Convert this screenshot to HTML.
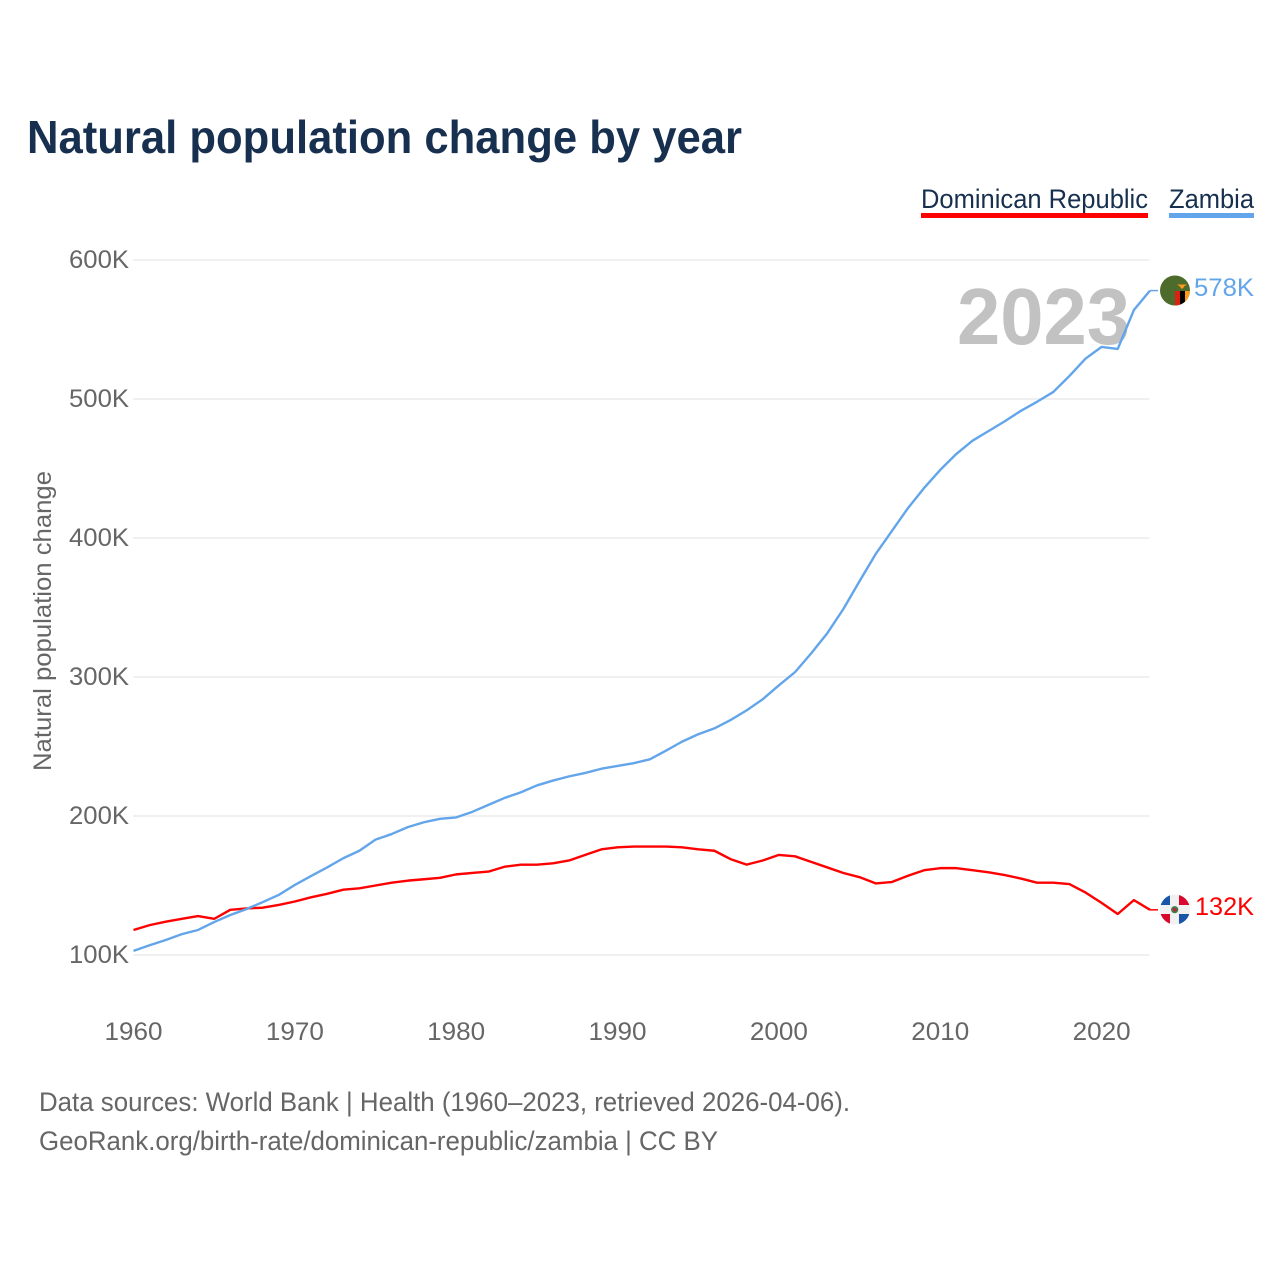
<!DOCTYPE html>
<html lang="en">
<head>
<meta charset="utf-8">
<title>Natural population change by year</title>
<style>
html,body{margin:0;padding:0;background:#fff;}
svg{display:block;font-family:"Liberation Sans",sans-serif;}
</style>
</head>
<body>
<svg id="chart" width="1280" height="1280" viewBox="0 0 1280 1280" xmlns="http://www.w3.org/2000/svg">
<rect width="1280" height="1280" fill="#fff"/>
<text x="27" y="153" font-size="46" font-weight="700" fill="#18304f" textLength="715" lengthAdjust="spacingAndGlyphs">Natural population change by year</text>
<g id="grid"></g>
<g id="yticks"></g>
<g id="xticks"></g>
<text transform="translate(51,771) rotate(-90)" font-size="25" fill="#666" textLength="300" lengthAdjust="spacingAndGlyphs">Natural population change</text>
<text x="957" y="344" font-size="80" font-weight="700" fill="#c2c2c2" textLength="173" lengthAdjust="spacingAndGlyphs">2023</text>
<g>
<g>
<text x="921" y="208" font-size="27" fill="#18304f" textLength="227" lengthAdjust="spacingAndGlyphs">Dominican Republic</text>
<rect x="921" y="213" width="227" height="5" fill="#ff0000"/>
</g>
<g>
<text x="1169" y="208" font-size="27" fill="#18304f" textLength="85" lengthAdjust="spacingAndGlyphs">Zambia</text>
<rect x="1169" y="213" width="85" height="5" fill="#63a5ea"/>
</g>
</g>
<path id="line-dr" fill="none" stroke="#ff0000" stroke-width="2.4" stroke-linejoin="round"/>
<path id="line-zm" fill="none" stroke="#63a5ea" stroke-width="2.4" stroke-linejoin="round"/>
<line id="conn-zm" x1="1150" x2="1158" stroke="#63a5ea" stroke-width="1.5"/>
<line id="conn-dr" x1="1150" x2="1158" stroke="#ff0000" stroke-width="1.5"/>
<defs>
<clipPath id="clip-zm"><circle cx="1175" cy="290.5" r="15"/></clipPath>
<clipPath id="clip-dr"><circle cx="1175" cy="909.5" r="15"/></clipPath>
</defs>
<g clip-path="url(#clip-zm)">
<rect x="1159" y="275" width="32" height="32" fill="#4d6b2b"/>
<rect x="1175" y="291" width="5" height="16" fill="#de2010"/>
<rect x="1180" y="291" width="5" height="16" fill="#000"/>
<rect x="1185" y="291" width="5" height="16" fill="#ff9a1e"/>
<path d="M1177 284.5 h10 l-3 2 l-1 2 h-2 l-1-2 z" fill="#ff9a1e"/>
</g>
<g clip-path="url(#clip-dr)">
<rect x="1159" y="894" width="32" height="32" fill="#f1f1f1"/>
<rect x="1159" y="894" width="11" height="11" fill="#1a56a8"/>
<rect x="1179" y="894" width="12" height="11" fill="#d8082e"/>
<rect x="1159" y="914" width="11" height="12" fill="#d8082e"/>
<rect x="1179" y="914" width="12" height="12" fill="#1a56a8"/>
<circle cx="1174.7" cy="909.7" r="3.6" fill="#3f7a4a"/>
<circle cx="1174.7" cy="909.7" r="1.7" fill="#c8203a"/>
</g>
<text id="value-zm" x="1194" y="296" font-size="25" fill="#63a5ea" textLength="60" lengthAdjust="spacingAndGlyphs">578K</text>
<text id="value-dr" x="1195" y="915" font-size="25" fill="#ff0000" textLength="59" lengthAdjust="spacingAndGlyphs">132K</text>
<text x="39" y="1111" font-size="26.5" fill="#666" textLength="811" lengthAdjust="spacingAndGlyphs">Data sources: World Bank | Health (1960–2023, retrieved 2026-04-06).</text>
<text x="39" y="1150" font-size="26.5" fill="#666" textLength="679" lengthAdjust="spacingAndGlyphs">GeoRank.org/birth-rate/dominican-republic/zambia | CC BY</text>
</svg>
<script>
const startYear = 1960;
const yTickValues = [100, 200, 300, 400, 500, 600];
const yTickLabels = ["100K", "200K", "300K", "400K", "500K", "600K"];
const xTickYears = [1960, 1970, 1980, 1990, 2000, 2010, 2020];
const zambia = [103,107,110.8,115,118,123.7,128.8,133,138,143.2,150.4,156.8,163,169.6,175,183,187,192,195.5,198,199,203,208,213,217,222,225.5,228.5,231,234,236,238,240.8,247,253.5,258.8,263,269,276,284,294,303.5,317,331.5,349,369,388.5,405,421.5,436,449,460.5,470,477,484,491.5,498,505,516.5,529,537.5,536,564,578];
const dominican = [118,121.5,124,126,128,126,132.5,133.5,134,136,138.5,141.5,144,147,148,150,152,153.5,154.5,155.5,158,159,160,163.5,165,165,166,168,172,176,177.5,178,178,178,177.5,176,175,169,165,168,172,171,167,163,159,156,151.5,152.5,157,161,162.5,162.5,161,159.5,157.5,155,152,152,151,145,137.5,129.5,139.5,132.5];

const NS = 'http://www.w3.org/2000/svg';
function xScale(year){ return 133.5 + (year - 1960) * (1150 - 133.5) / 63; }
function yScale(v){ return 955 - (v - 100) * 1.39; }
function linePath(values){
  return values.map(function(v, i){
    return (i ? 'L' : 'M') + xScale(startYear + i).toFixed(2) + ' ' + yScale(v).toFixed(2);
  }).join(' ');
}
const grid = document.getElementById('grid');
const yticks = document.getElementById('yticks');
const xticks = document.getElementById('xticks');
yTickValues.forEach(function(v, i){
  const ln = document.createElementNS(NS, 'line');
  
  
  ln.setAttribute('x1', 133);
  ln.setAttribute('x2', 1149.5);
  ln.setAttribute('y1', yScale(v));
  ln.setAttribute('y2', yScale(v));
  ln.setAttribute('stroke', '#ececec');
  ln.setAttribute('stroke-width', '1.5');
  grid.appendChild(ln);
  const t = document.createElementNS(NS, 'text');
  
  
  t.setAttribute('x', 69);
  t.setAttribute('y', yScale(v) + 8);
  t.setAttribute('font-size', '25');
  t.setAttribute('fill', '#666');
  t.setAttribute('textLength', '60');
  t.setAttribute('lengthAdjust', 'spacingAndGlyphs');
  t.textContent = yTickLabels[i];
  yticks.appendChild(t);
});
xTickYears.forEach(function(y){
  const t = document.createElementNS(NS, 'text');
  
  
  t.setAttribute('x', xScale(y) - 29);
  t.setAttribute('y', 1040);
  t.setAttribute('font-size', '25');
  t.setAttribute('fill', '#666');
  t.setAttribute('textLength', '58');
  t.setAttribute('lengthAdjust', 'spacingAndGlyphs');
  t.textContent = String(y);
  xticks.appendChild(t);
});
document.getElementById('line-zm').setAttribute('d', linePath(zambia));
document.getElementById('line-dr').setAttribute('d', linePath(dominican));
const connZm = document.getElementById('conn-zm');
const connDr = document.getElementById('conn-dr');
const yZm = yScale(zambia[zambia.length - 1]);
const yDr = yScale(dominican[dominican.length - 1]);
connZm.setAttribute('y1', yZm);
connZm.setAttribute('y2', yZm);
connDr.setAttribute('y1', yDr);
connDr.setAttribute('y2', yDr);
document.getElementById('value-zm').textContent = Math.round(zambia[zambia.length - 1]) + 'K';
document.getElementById('value-dr').textContent = Math.round(dominican[dominican.length - 1] - 0.5) + 'K';
</script>
</body>
</html>
